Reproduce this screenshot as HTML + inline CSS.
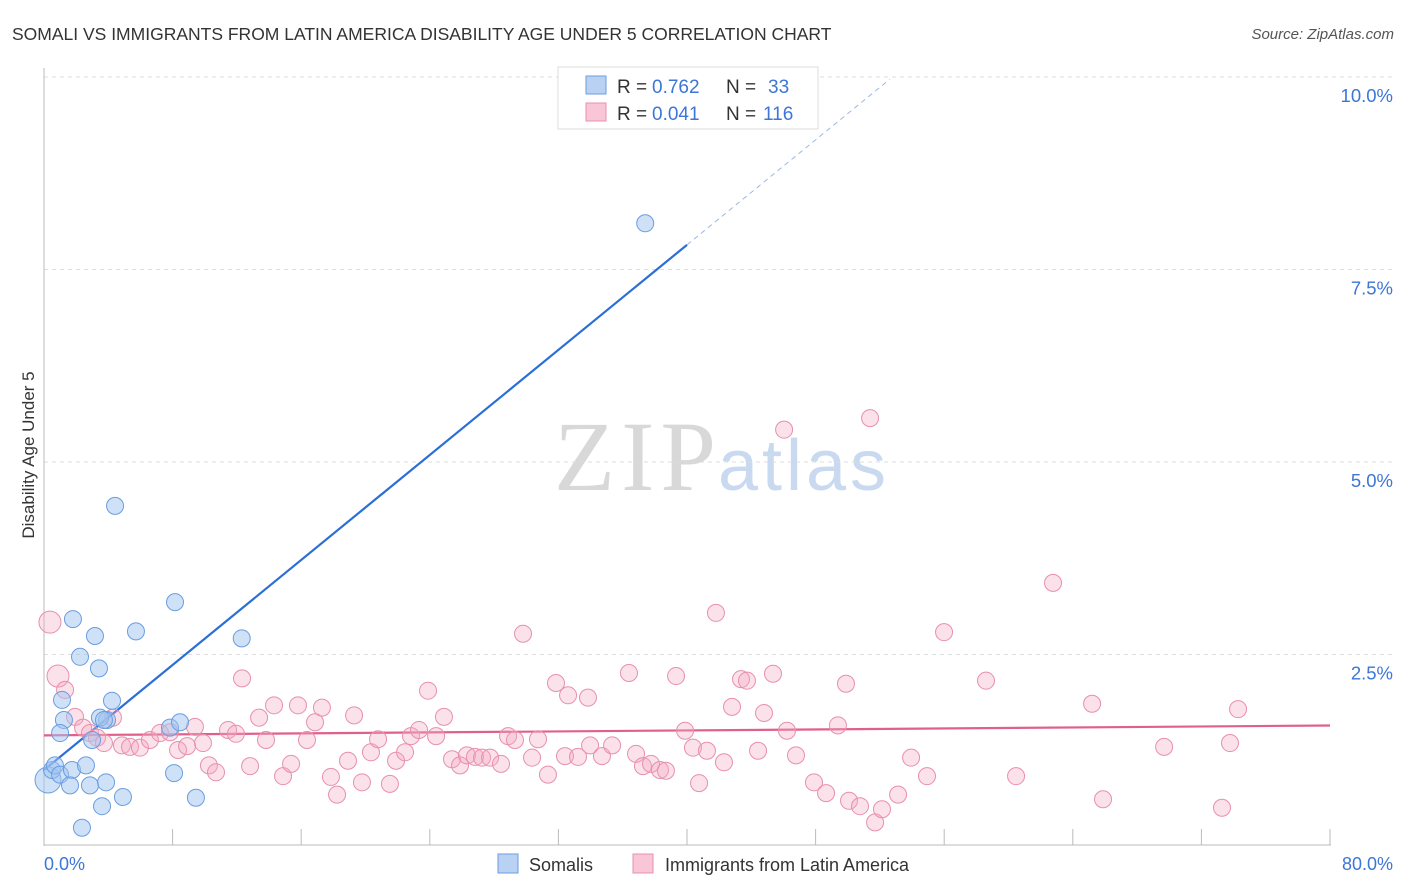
<!DOCTYPE html>
<html><head><meta charset="utf-8"><style>
body{margin:0;background:#fff;font-family:"Liberation Sans",sans-serif;}
svg{display:block}
</style></head><body>
<svg id="chart" width="1406" height="892" xmlns="http://www.w3.org/2000/svg">
<text x="12" y="40" font-size="17.5" fill="#333">SOMALI VS IMMIGRANTS FROM LATIN AMERICA DISABILITY AGE UNDER 5 CORRELATION CHART</text>
<text x="1394" y="39" font-size="15" fill="#555" font-style="italic" text-anchor="end">Source: ZipAtlas.com</text>
<text x="716" y="490" font-size="100" fill="#d8d8d8" text-anchor="end" font-family="Liberation Serif,serif" textLength="162">ZIP</text>
<text x="718" y="490" font-size="72" fill="#c9daf0" textLength="168">atlas</text>
<g id="grid"></g><g id="axes"></g><g id="lines"></g><g id="pts"></g>
<text transform="translate(34,455) rotate(-90)" font-size="17" fill="#333" text-anchor="middle">Disability Age Under 5</text>
<text x="44" y="870" font-size="18" fill="#3d76d6">0.0%</text>
<text x="1393" y="870" font-size="18" fill="#3d76d6" text-anchor="end">80.0%</text>
<g>
<rect x="558" y="67" width="260" height="62" fill="#fff" stroke="#ddd"/>
<rect x="586" y="76" width="20" height="18" fill="#b9d2f3" stroke="#6a9de0"/>
<rect x="586" y="103" width="20" height="18" fill="#f8c6d6" stroke="#e890ab"/>
<text x="617" y="93" font-size="19" fill="#333" xml:space="preserve">R = <tspan x="652" fill="#3d76d6">0.762</tspan><tspan x="726">N =</tspan><tspan x="768" fill="#3d76d6">33</tspan></text>
<text x="617" y="120" font-size="19" fill="#333" xml:space="preserve">R = <tspan x="652" fill="#3d76d6">0.041</tspan><tspan x="726">N =</tspan><tspan x="763" fill="#3d76d6">116</tspan></text>
</g>
<g>
<rect x="498" y="854" width="20" height="19" fill="#b9d2f3" stroke="#6a9de0"/>
<text x="529" y="871" font-size="18" fill="#333">Somalis</text>
<rect x="633" y="854" width="20" height="19" fill="#f8c6d6" stroke="#e890ab"/>
<text x="665" y="871" font-size="18" fill="#333">Immigrants from Latin America</text>
</g>
</svg>
<script>
const yTicks=[2.5,5.0,7.5,10.0];
const xTickVals=[0,8,16,24,32,40,48,56,64,72,80];
const somaliX=[0.25,0.5,0.68,1.0,1.74,1.12,1.24,1.0,1.8,3.17,2.24,3.42,4.42,5.72,8.15,12.3,3.92,4.23,2.99,3.48,3.73,7.84,8.46,8.09,2.61,2.86,1.62,3.86,3.61,4.91,9.45,2.36,37.4];
const somaliY=[0.87,1.0,1.06,0.94,1.0,1.91,1.65,1.48,2.96,2.74,2.47,2.32,4.43,2.8,3.18,2.71,1.65,1.9,1.39,1.68,1.65,1.55,1.62,0.96,1.06,0.8,0.8,0.84,0.53,0.65,0.64,0.25,8.1];
const latX=[0.37,0.87,1.31,1.93,2.43,2.86,3.30,3.73,4.29,4.85,5.35,5.97,6.59,7.22,7.84,8.34,8.90,9.39,9.89,10.26,10.70,11.45,11.94,12.32,12.82,13.38,13.81,14.31,14.87,15.37,15.80,16.36,16.86,17.29,17.85,18.23,19.29,18.91,19.78,20.34,20.78,21.52,21.90,22.46,22.83,23.33,23.89,24.39,24.88,25.38,25.88,26.31,26.81,27.25,27.75,28.43,28.87,29.30,29.80,30.36,30.73,31.35,31.85,32.60,32.41,33.22,33.84,33.97,34.71,35.34,36.39,36.83,37.26,37.76,38.32,38.69,39.32,39.88,40.37,40.75,41.24,41.80,42.30,42.80,43.36,43.73,44.42,44.79,45.35,46.22,46.04,46.78,47.90,48.65,49.39,49.89,50.08,50.76,51.39,51.70,52.13,53.13,53.94,54.93,55.99,58.60,60.47,62.77,65.20,65.88,69.68,73.28,73.78,74.28];
const latY=[2.92,2.22,2.04,1.69,1.55,1.48,1.42,1.35,1.68,1.32,1.30,1.29,1.39,1.48,1.49,1.26,1.31,1.56,1.35,1.06,0.97,1.52,1.47,2.19,1.05,1.68,1.39,1.84,0.92,1.08,1.84,1.39,1.62,1.81,0.91,0.68,1.71,1.12,0.84,1.23,1.40,0.82,1.12,1.23,1.44,1.52,2.03,1.44,1.69,1.14,1.06,1.19,1.17,1.16,1.16,1.08,1.44,1.39,2.77,1.16,1.40,0.94,2.13,1.97,1.18,1.17,1.94,1.32,1.18,1.32,2.26,1.21,1.05,1.08,1.00,0.99,2.22,1.51,1.29,0.83,1.25,3.04,1.10,1.82,2.18,2.16,1.25,1.74,2.25,1.51,5.42,1.19,0.84,0.70,1.58,2.12,0.60,0.53,5.57,0.32,0.49,0.68,1.16,0.92,2.79,2.16,0.92,3.43,1.86,0.62,1.30,0.51,1.35,1.79];
const somaliFit=[1.0,0.1705];
const latFit=[1.45,0.0016];
const NS='http://www.w3.org/2000/svg';
const sx=v=>44+v/80*1286;
const sy=v=>847-v*77;
function mk(tag,attrs,parent){const e=document.createElementNS(NS,tag);for(const k in attrs)e.setAttribute(k,attrs[k]);document.getElementById(parent).appendChild(e);return e;}
yTicks.forEach(t=>{
 const l=mk('line',{x1:44,x2:1393,y1:sy(t),y2:sy(t),stroke:'#ddd','stroke-dasharray':'4,4'},'grid');
 
 
 const tx=mk('text',{x:1393,y:sy(t)+25,'font-size':18.5,fill:'#3d76d6','text-anchor':'end','font-family':'Liberation Sans,sans-serif'},'grid');
 tx.textContent=t.toFixed(1)+'%';
 
 
});
const ya=mk('line',{x1:44,x2:44,y1:68,y2:846,stroke:'#bbb'},'axes');


const xa=mk('line',{x1:44,x2:1331,y1:845,y2:845,stroke:'#bbb'},'axes');


xTickVals.forEach(t=>{
 const k=mk('line',{x1:sx(t),x2:sx(t),y1:829,y2:845,stroke:'#bbb'},'axes');
 
 
});
function dot(x,y,cls,r){
 const blue=cls==='somali';
 const c=mk('circle',{cx:sx(x),cy:sy(y),r:r,fill:blue?'rgba(160,196,240,0.5)':'rgba(244,170,195,0.35)',stroke:blue?'#6a9de0':'#e890ab','stroke-width':1},'pts');
 
 
}
latX.forEach((x,i)=>dot(x,latY[i],'lat',i<2?11:8.5));
somaliX.forEach((x,i)=>dot(x,somaliY[i],'somali',i===0?13:8.5));
const f=(p,x)=>p[0]+p[1]*x;
const bl=mk('line',{x1:sx(0),y1:sy(f(somaliFit,0)),x2:sx(40),y2:sy(f(somaliFit,40)),stroke:'#2a6fd6','stroke-width':2.2},'lines');


const bd=mk('line',{x1:sx(40),y1:sy(f(somaliFit,40)),x2:sx(52.6),y2:sy(f(somaliFit,52.6)),stroke:'#9bb8e0','stroke-width':1,'stroke-dasharray':'5,4'},'lines');


const pl=mk('line',{x1:sx(0),y1:sy(f(latFit,0)),x2:sx(80),y2:sy(f(latFit,80)),stroke:'#e0608c','stroke-width':2.2},'lines');


</script>
</body></html>
